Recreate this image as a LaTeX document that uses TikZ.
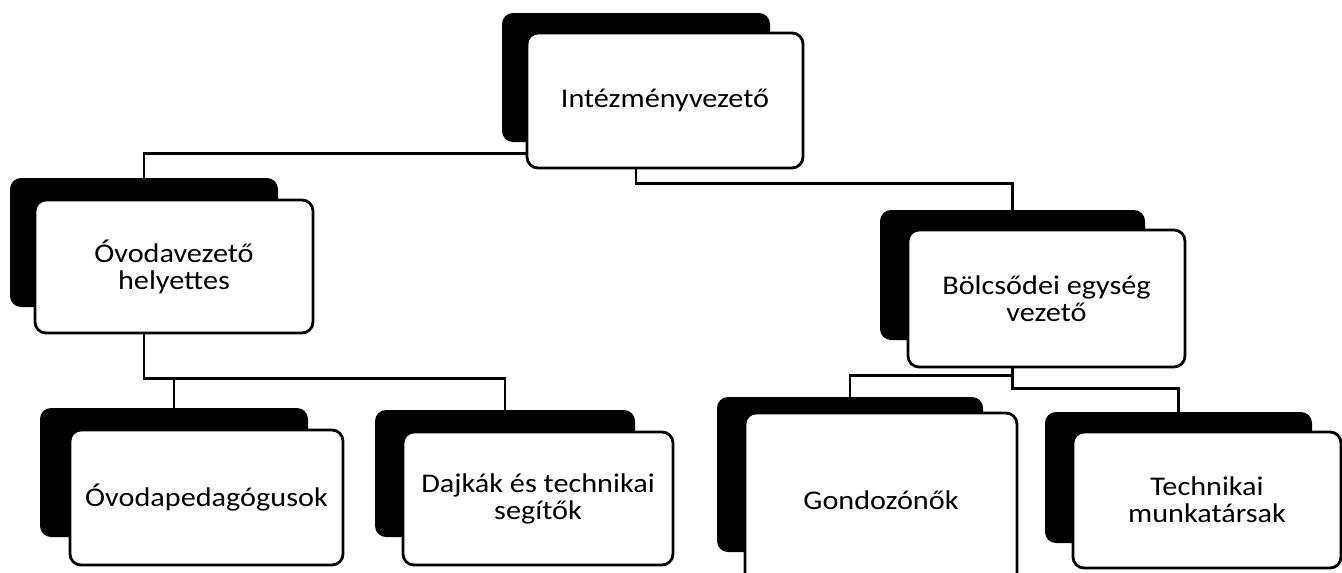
\documentclass[tikz,border=0pt]{standalone}
\usepackage{fontspec}
\setmainfont{Carlito}[FakeStretch=1.12]
\usetikzlibrary{backgrounds}
\begin{document}
\begin{tikzpicture}[x=1pt,y=-1pt,
  sh/.style={fill=black, rounded corners=11pt, inner sep=0pt},
  bx/.style={draw=black, line width=2.8pt, fill=white, rounded corners=11pt,
    align=center, inner sep=0pt, font=\fontsize{27}{27}\selectfont},
  con/.style={draw=black, line width=2.6pt}]
\useasboundingbox (0,0) rectangle (1342,573);
% shadows
\node[sh, minimum width=268pt, minimum height=129pt] (As) at (636,77.5) {};
\node[sh, minimum width=268pt, minimum height=129pt] (Bs) at (144,242.5) {};
\node[sh, minimum width=265pt, minimum height=130pt] (Cs) at (1012.5,275) {};
\node[sh, minimum width=268pt, minimum height=129pt] (Ds) at (174,472.5) {};
\node[sh, minimum width=260pt, minimum height=127pt] (Es) at (505,473.5) {};
\node[sh, minimum width=266pt, minimum height=155pt] (Fs) at (850,474.5) {};
\node[sh, minimum width=267pt, minimum height=131pt] (Gs) at (1178.5,477.5) {};
% boxes
\node[bx, minimum width=276pt, minimum height=135pt] (A) at (665,100.5) {Intézményvezető};
\node[bx, minimum width=278pt, minimum height=133pt] (B) at (174,266.5) {Óvodavezető\\helyettes};
\node[bx, minimum width=277pt, minimum height=137pt] (C) at (1046.5,298.5) {Bölcsődei egység\\vezető};
\node[bx, minimum width=273pt, minimum height=135pt] (D) at (206.5,497.5) {Óvodapedagógusok};
\node[bx, minimum width=270pt, minimum height=133pt] (E) at (538,498.5) {Dajkák és technikai\\segítők};
\node[bx, minimum width=272pt, minimum height=174pt] (F) at (881,500) {Gondozónők};
\node[bx, minimum width=268pt, minimum height=136pt] (G) at (1207,500) {Technikai\\munkatársak};
% connectors
\begin{scope}[on background layer]
\draw[con] (As.south) -- ++(0,11) -| (Bs.north);
\draw[con] (As.south) -- ++(0,41) -| (Cs.north);
\draw[con] (Bs.south) -- ++(0,71) -| (Ds.north);
\draw[con] (Bs.south) -- ++(0,71) -| (Es.north);
\draw[con] (Cs.south) -- ++(0,35) -| (Fs.north);
\draw[con] (Cs.south) -- ++(0,48) -| (Gs.north);
\end{scope}
\end{tikzpicture}
\end{document}
